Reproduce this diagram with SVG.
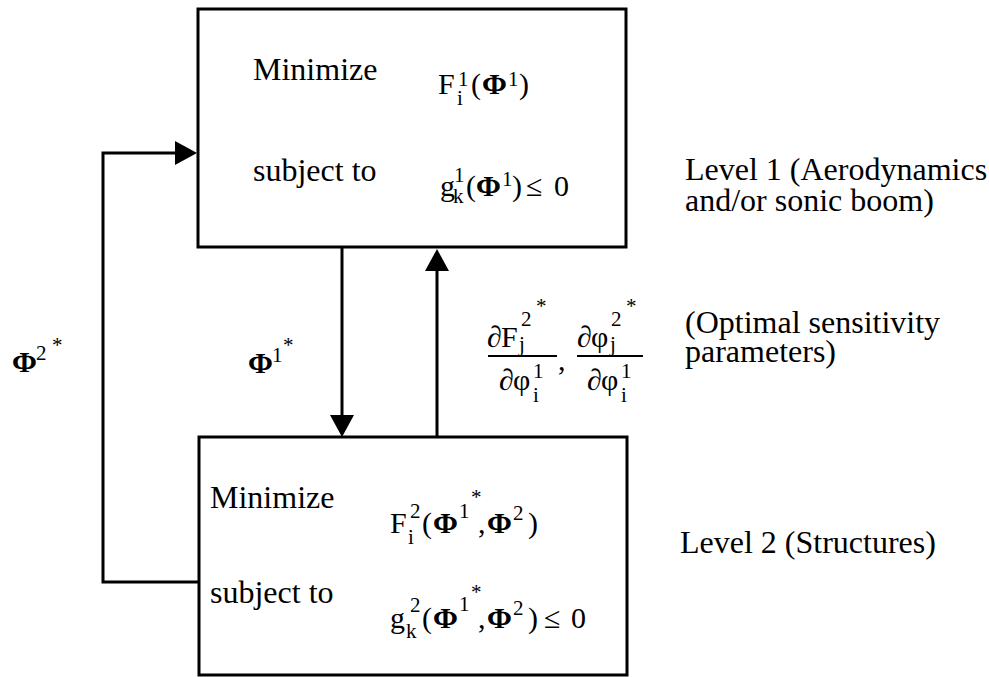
<svg xmlns="http://www.w3.org/2000/svg" width="989" height="677" viewBox="0 0 989 677">
<style>
  text { font-family: "Liberation Serif", "Times New Roman", serif; fill: #000; }
  .w { font-size: 32px; }
  .t { font-size: 30px; }
  .s { font-size: 21px; }
  .b { font-weight: bold; }
  .box { fill: #fff; stroke: #000; stroke-width: 3; }
  .conn { fill: none; stroke: #000; stroke-width: 3; }
  .frac { stroke: #000; stroke-width: 2; }
</style>
<defs>
  <marker id="arrow" markerUnits="userSpaceOnUse" viewBox="0 0 22 24" refX="12" refY="12" markerWidth="22" markerHeight="24" orient="auto">
    <path d="M0,0 L22,12 L0,24 z" fill="#000"/>
  </marker>
</defs>
<rect width="989" height="677" fill="#fff"/>

<g id="connectors">
  <path class="conn" d="M342,247 L342,427" marker-end="url(#arrow)"/>
  <path class="conn" d="M437,437 L437,259" marker-end="url(#arrow)"/>
  <path class="conn" d="M199,582 L103,582 L103,153 L187,153" marker-end="url(#arrow)"/>
</g>

<g id="level1">
  <rect class="box" x="198" y="9" width="428" height="238"/>
  <text class="w" x="253" y="80">Minimize</text>
  <text class="t" x="438" y="94">F</text>
  <text class="s" x="457" y="105">i</text>
  <text class="s" x="458" y="86">1</text>
  <text class="t" x="471" y="94">(</text>
  <text class="t b" x="482" y="94">Φ</text>
  <text class="s" x="508" y="86">1</text>
  <text class="t" x="519" y="94">)</text>
  <text class="w" x="253" y="181">subject to</text>
  <text class="t" x="440" y="196">g</text>
  <text class="s" x="453" y="203">k</text>
  <text class="s" x="454" y="182">1</text>
  <text class="t" x="466" y="196">(</text>
  <text class="t b" x="476" y="196">Φ</text>
  <text class="s" x="502" y="186">1</text>
  <text class="t" x="512" y="196">)</text>
  <text class="t" x="526" y="196">≤</text>
  <text class="t" x="554" y="196">0</text>
</g>

<g id="level2">
  <rect class="box" x="199" y="437" width="428" height="238"/>
  <text class="w" x="210" y="508">Minimize</text>
  <text class="t" x="390" y="533">F</text>
  <text class="s" x="408" y="544">i</text>
  <text class="s" x="410" y="518">2</text>
  <text class="t" x="422" y="533">(</text>
  <text class="t b" x="433" y="533">Φ</text>
  <text class="s" x="459" y="518">1</text>
  <text class="s" x="471" y="504">*</text>
  <text class="t" x="478" y="533">,</text>
  <text class="t b" x="487" y="533">Φ</text>
  <text class="s" x="513" y="520">2</text>
  <text class="t" x="528" y="533">)</text>
  <text class="w" x="210" y="603">subject to</text>
  <text class="t" x="390" y="628">g</text>
  <text class="s" x="406" y="638">k</text>
  <text class="s" x="410" y="612">2</text>
  <text class="t" x="422" y="628">(</text>
  <text class="t b" x="433" y="628">Φ</text>
  <text class="s" x="459" y="611">1</text>
  <text class="s" x="471" y="599">*</text>
  <text class="t" x="478" y="628">,</text>
  <text class="t b" x="487" y="628">Φ</text>
  <text class="s" x="513" y="615">2</text>
  <text class="t" x="528" y="628">)</text>
  <text class="t" x="544" y="628">≤</text>
  <text class="t" x="571" y="628">0</text>
</g>

<g id="label-phi2">
  <text class="t b" x="12" y="372">Φ</text>
  <text class="s" x="36" y="360">2</text>
  <text class="s" x="52" y="352">*</text>
</g>

<g id="label-phi1">
  <text class="t b" x="248" y="373">Φ</text>
  <text class="s" x="272" y="362">1</text>
  <text class="s" x="283" y="352">*</text>
</g>

<g id="label-sensitivity">
  <text class="t" x="487" y="347">∂</text>
  <text class="t" x="501" y="347">F</text>
  <text class="s" x="519" y="351">j</text>
  <text class="s" x="521" y="326">2</text>
  <text class="s" x="536" y="313">*</text>
  <line class="frac" x1="488" y1="356" x2="557" y2="356"/>
  <text class="t" x="499" y="390">∂</text>
  <text class="t" x="513" y="390">φ</text>
  <text class="s" x="533" y="402">i</text>
  <text class="s" x="533" y="378">1</text>
  <text class="t" x="558" y="370">,</text>
  <text class="t" x="577" y="347">∂</text>
  <text class="t" x="591" y="347">φ</text>
  <text class="s" x="610" y="351">j</text>
  <text class="s" x="611" y="326">2</text>
  <text class="s" x="626" y="313">*</text>
  <line class="frac" x1="577" y1="356" x2="643" y2="356"/>
  <text class="t" x="587" y="390">∂</text>
  <text class="t" x="601" y="390">φ</text>
  <text class="s" x="621" y="402">i</text>
  <text class="s" x="621" y="378">1</text>
</g>

<g id="side-labels">
  <text class="w" x="685" y="180">Level 1 (Aerodynamics</text>
  <text class="w" x="685" y="211">and/or sonic boom)</text>
  <text class="w" x="685" y="333">(Optimal sensitivity</text>
  <text class="w" x="685" y="362">parameters)</text>
  <text class="w" x="680" y="553">Level 2 (Structures)</text>
</g>
</svg>
